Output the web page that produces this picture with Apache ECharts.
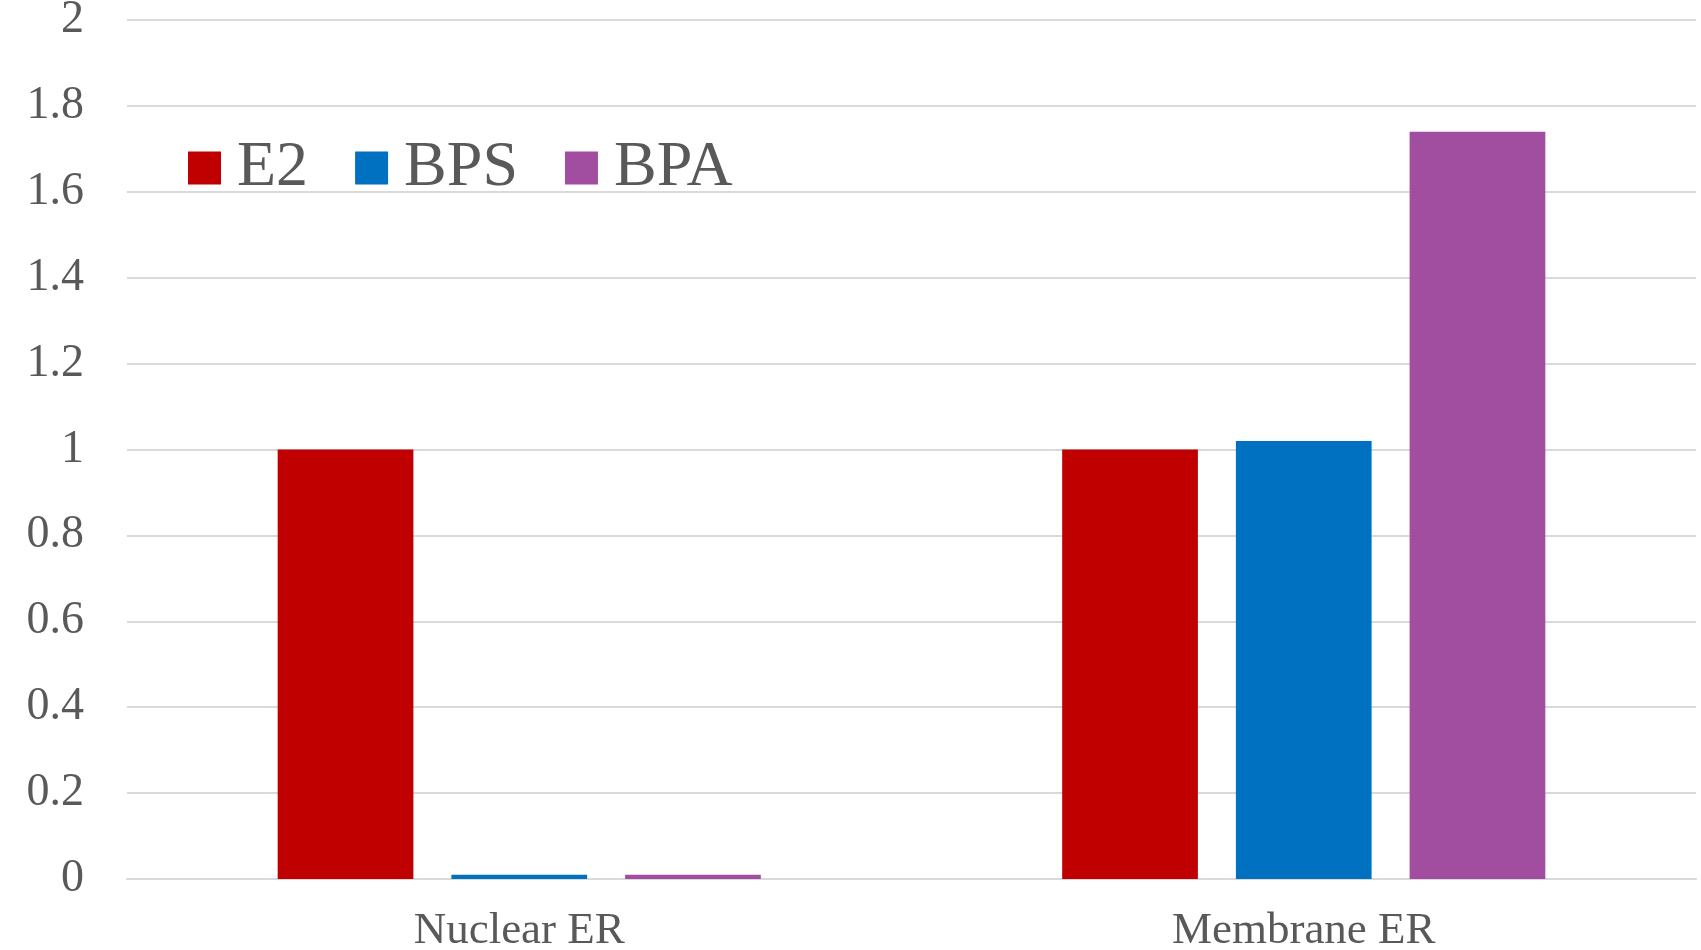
<!DOCTYPE html>
<html>
<head>
<meta charset="utf-8">
<script src="https://cdn.jsdelivr.net/npm/echarts@6/dist/echarts.min.js"></script>
<style>
  html, body { margin: 0; padding: 0; background: #ffffff; }
  #chart { width: 1701px; height: 950px; }
</style>
</head>
<body>
<div id="chart"></div>
<script>
const categories = ['Nuclear ER', 'Membrane ER'];
const seriesNames = ['E2', 'BPS', 'BPA'];
const e2Values = [1, 1];
const bpsValues = [0.01, 1.02];
const bpaValues = [0.01, 1.74];
const colors = ['#C00000', '#0070C0', '#A14EA1'];

const FONT = 'Liberation Serif';
const chart = echarts.init(document.getElementById('chart'));
const valueSets = [e2Values, bpsValues, bpaValues];

chart.setOption({
  animation: false,
  backgroundColor: '#ffffff',
  grid: { left: 127, right: 5, top: 20, bottom: 71, containLabel: false, outerBoundsMode: 'none' },
  legend: {
    left: 188,
    top: 136,
    padding: 0,
    itemWidth: 33,
    itemHeight: 33,
    itemGap: 47,
    icon: 'rect',
    data: seriesNames,
    textStyle: { fontFamily: FONT, fontSize: 64, color: '#595959', padding: [0, 0, 0, 11] }
  },
  xAxis: {
    type: 'category',
    data: categories,
    axisLine: { show: true, lineStyle: { color: '#d9d9d9', width: 2 } },
    axisTick: { show: false },
    axisLabel: { fontFamily: FONT, fontSize: 45, color: '#595959', margin: 30 }
  },
  yAxis: {
    type: 'value',
    min: 0,
    max: 2,
    interval: 0.2,
    axisLine: { show: false },
    axisTick: { show: false },
    splitLine: { lineStyle: { color: '#d9d9d9', width: 2 } },
    axisLabel: { fontFamily: FONT, fontSize: 46, color: '#595959', margin: 43 }
  },
  series: seriesNames.map((name, i) => ({
    name: name,
    type: 'bar',
    data: valueSets[i],
    barWidth: '17.3%',
    barGap: '28%',
    itemStyle: { color: colors[i] }
  }))
});
</script>
</body>
</html>
